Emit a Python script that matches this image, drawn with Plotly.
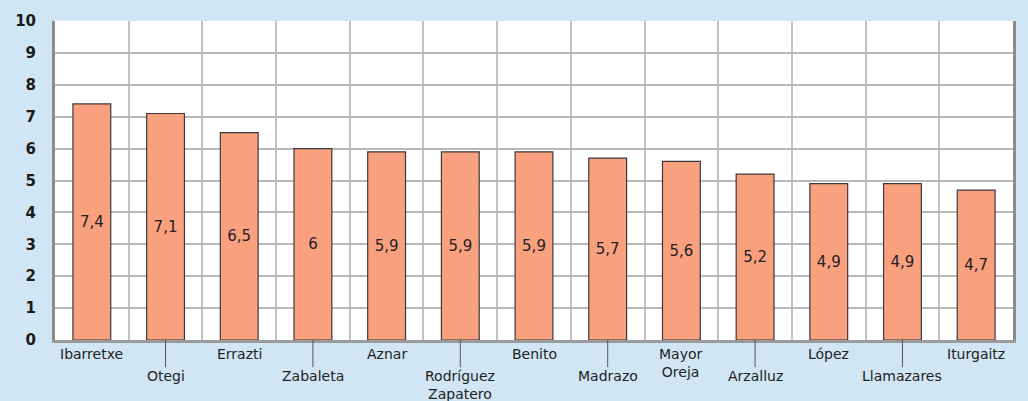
import plotly.graph_objects as go

# Leaders and their average rating (0-10)
leaders = ["Ibarretxe", "Otegi", "Errazti", "Zabaleta", "Aznar",
           "Rodríguez<br>Zapatero", "Benito", "Madrazo", "Mayor<br>Oreja",
           "Arzalluz", "López", "Llamazares", "Iturgaitz"]
ratings = [7.4, 7.1, 6.5, 6.0, 5.9, 5.9, 5.9, 5.7, 5.6, 5.2, 4.9, 4.9, 4.7]
y_ticks = list(range(0, 11))

BG = "#d0e6f5"
BAR = "#f9a07f"
FONT = "DejaVu Sans"

keys = [name.replace("<br>", " ") for name in leaders]


def fmt(v):
    return str(int(v)) if float(v).is_integer() else str(v).replace(".", ",")


fig = go.Figure()
fig.add_trace(go.Bar(
    x=keys,
    y=ratings,
    text=[fmt(v) for v in ratings],
    textposition="inside",
    insidetextanchor="middle",
    textangle=0,
    constraintext="none",
    textfont=dict(family=FONT, size=15, color="#222222"),
    marker=dict(color=BAR, line=dict(color="#3a3a3a", width=1.2)),
    hoverinfo="x+y",
))

# Category names alternate between an upper and a lower row;
# the lower row gets a leader line from the axis.
ROW_GAP = 22
for i, (key, name) in enumerate(zip(keys, leaders)):
    shift = -4 - (ROW_GAP if i % 2 else 0)
    fig.add_annotation(
        x=key, xref="x", y=0, yref="paper",
        yanchor="top", xanchor="center", valign="top",
        yshift=shift,
        text=name, showarrow=False,
        font=dict(family=FONT, size=14, color="#222222"),
    )
    if i % 2:
        fig.add_shape(
            type="line", xref="x", yref="paper",
            x0=key, x1=key, y0=0, y1=-0.085,
            line=dict(color="#555555", width=1),
        )

fig.update_layout(
    width=1028, height=401,
    margin=dict(l=55, r=14, t=15, b=61),
    paper_bgcolor=BG,
    plot_bgcolor="white",
    bargap=0.487,
    showlegend=False,
    xaxis=dict(
        type="category",
        tickson="boundaries",
        showticklabels=False,
        ticks="",
        showgrid=True,
        gridcolor="#c4c4c4",
        gridwidth=1.5,
        showline=True,
        linecolor="#9a9a9a",
        linewidth=3,
    ),
    yaxis=dict(
        range=[0, 10],
        tickvals=y_ticks,
        showgrid=True,
        gridcolor="#b8b8b8",
        gridwidth=1.5,
        zeroline=False,
        showline=True,
        mirror=True,
        linecolor="#8c8c8c",
        linewidth=3,
        ticks="",
        ticklabelstandoff=13,
        tickfont=dict(family=FONT, size=15, color="#1a1a1a", weight="bold"),
    ),
)

fig.write_html("out.html")
